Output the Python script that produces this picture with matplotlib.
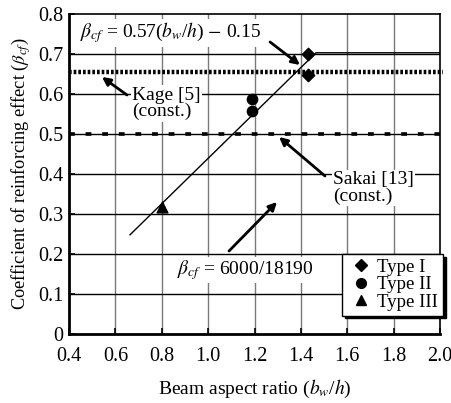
import matplotlib
matplotlib.use("Agg")
import matplotlib.pyplot as plt
from matplotlib.lines import Line2D

plt.rcParams['font.family'] = ['Liberation Serif', 'DejaVu Serif']
plt.rcParams['mathtext.fontset'] = 'stix'

# data
type1_x = [1.43, 1.43]
type1_y = [0.700, 0.647]
type2_x = [1.19, 1.19]
type2_y = [0.588, 0.558]
type3_x = [0.80]
type3_y = [0.318]
fit_x = [0.663, 1.465, 2.0]
fit_y = [0.248, 0.703, 0.703]
kage_value = 0.655
sakai_value = 0.50
xticks = [0.4, 0.6, 0.8, 1.0, 1.2, 1.4, 1.6, 1.8, 2.0]
yticks = [0, 0.1, 0.2, 0.3, 0.4, 0.5, 0.6, 0.7, 0.8]

fig = plt.figure(figsize=(4.52, 4.03), dpi=100)
ax = fig.add_axes([0.1527, 0.1712, 0.8208, 0.7941])
ax.set_xlim(0.4, 2.0)
ax.set_ylim(0, 0.8)

for xv in xticks[1:-1]:
    ax.axvline(xv, color='#7a7a7a', lw=1.0, zorder=1)
for yv in yticks[1:-1]:
    ax.axhline(yv, color='black', lw=1.0, zorder=1)

ax.plot([0.4, 2.013], [kage_value, kage_value], color='black', lw=3.2,
        linestyle=(0, (0.6, 0.45)), zorder=2, clip_on=False)
ax.plot([0.4, 2.0], [sakai_value, sakai_value], color='black', lw=2.6,
        linestyle=(0, (1.6, 3.0)), zorder=2)
ax.plot(fit_x, fit_y, color='black', lw=1.0, zorder=3)

ax.scatter(type1_x, type1_y, marker='D', s=40, color='black', zorder=4)
ax.scatter(type2_x, type2_y, marker='o', s=55, color='black', zorder=4)
ax.scatter(type3_x, type3_y, marker='^', s=60, color='black', zorder=4)

box = dict(facecolor='white', edgecolor='none', pad=1.0)
fs = 14
ax.text(0.447, 0.7525, r'$\beta_{cf}$ = 0.57($b_w$/$h$) $-$ 0.15', fontsize=fs,
        ha='left', va='center', bbox=box, zorder=5)
ax.text(0.672, 0.576, 'Kage [5]\n(const.)', fontsize=fs, ha='left', va='center',
        linespacing=0.95, bbox=box, zorder=5)
ax.text(1.538, 0.365, 'Sakai [13]\n(const.)', fontsize=fs, ha='left', va='center',
        linespacing=0.95, bbox=box, zorder=5)
ax.text(0.866, 0.16, r'$\beta_{cf}$ = 6000/18190', fontsize=fs, ha='left', va='center',
        bbox=box, zorder=5)

arrow = dict(arrowstyle='-|>', color='black', lw=2.0, mutation_scale=12, shrinkA=0, shrinkB=0)
ax.annotate('', xy=(1.396, 0.6725), xytext=(1.267, 0.73), arrowprops=arrow, zorder=6)
ax.annotate('', xy=(0.542, 0.6425), xytext=(0.650, 0.5975), arrowprops=arrow, zorder=6)
ax.annotate('', xy=(1.306, 0.4925), xytext=(1.504, 0.395), arrowprops=arrow, zorder=6)
ax.annotate('', xy=(1.297, 0.33), xytext=(1.09, 0.2075), arrowprops=arrow, zorder=6)

ax.set_xticks(xticks)
ax.set_xticklabels([f'{v:.1f}' for v in xticks])
ax.set_yticks(yticks)
ax.set_yticklabels(['0'] + [f'{v:.1f}' for v in yticks[1:]])
ax.tick_params(direction='in', length=4, width=1.2, labelsize=14.5)
ax.tick_params(axis='x', pad=9)
ax.tick_params(axis='y', pad=4)
for side in ['left', 'bottom']:
    ax.spines[side].set_linewidth(2.0)
for side in ['top', 'right']:
    ax.spines[side].set_linewidth(1.2)

ax.set_xlabel(r'Beam aspect ratio ($b_w$/$h$)', fontsize=14, labelpad=9)
ax.set_ylabel(r'Coefficient of reinforcing effect ($\beta_{cf}$)', fontsize=13.2, labelpad=4)

handles = [
    Line2D([], [], marker='D', color='black', linestyle='none', markersize=6),
    Line2D([], [], marker='o', color='black', linestyle='none', markersize=7),
    Line2D([], [], marker='^', color='black', linestyle='none', markersize=7),
]
leg = ax.legend(handles, ['Type I', 'Type II', 'Type III'], loc='upper right',
                bbox_to_anchor=(1.008, 0.25), fontsize=13.5, frameon=True, fancybox=False,
                shadow={'color': 'black', 'alpha': 1.0}, handletextpad=0.15, handlelength=1.5,
                labelspacing=0.02, borderpad=0.25, borderaxespad=0)
leg.get_frame().set_edgecolor('black')
leg.get_frame().set_linewidth(1.0)
leg.set_zorder(7)

fig.savefig('out.png', dpi=100)
